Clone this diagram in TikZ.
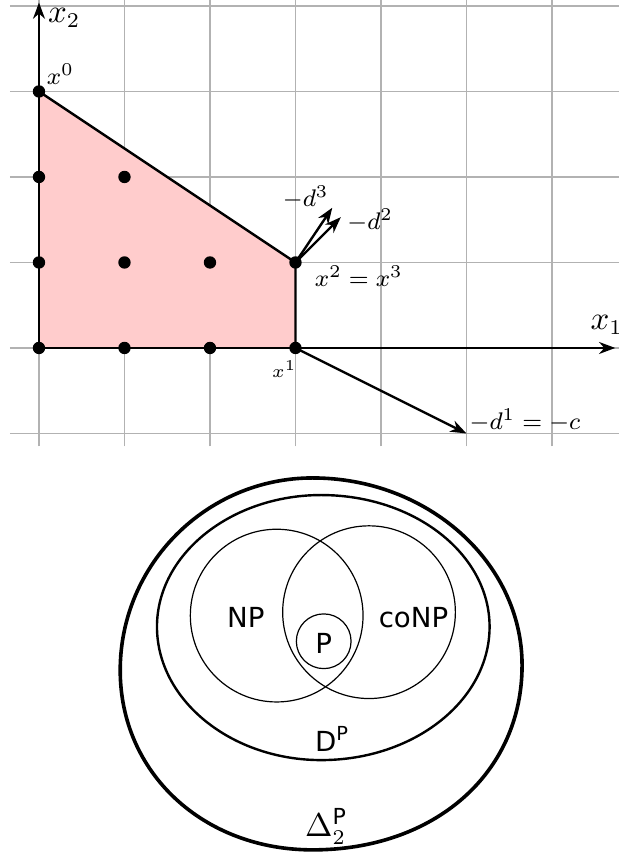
\documentclass[tikz,border=0pt]{standalone}
\usepackage{fontspec}
\setsansfont{DejaVu Sans}
\usepackage{xcolor}
\usepackage{tikz}
\usetikzlibrary{arrows.meta,positioning,calc}
\usepackage{amsmath}
\definecolor{feasfill}{RGB}{255,204,204}
\definecolor{gridgray}{RGB}{178,178,178}

\begin{document}
\begin{tikzpicture}[
  >={Stealth[length=1.9mm,width=1.4mm]},
  gridline/.style={draw=gridgray, thin},
  axis/.style={->, thick},
  edge/.style={thick},
  vtx/.style={circle, fill=black, inner sep=0pt, minimum size=1.45mm},
  lbl/.style={inner sep=0pt, font=\fontsize{8.5}{10}\selectfont},
  axlbl/.style={inner sep=0pt, font=\fontsize{10.5}{12}\selectfont},
  cls/.style={draw, thin, circle, inner sep=0pt},
  clsname/.style={inner sep=0pt, font=\sffamily\fontsize{9.2}{11}\selectfont}]
\useasboundingbox (-0.456,-5.93) rectangle (6.772,4.07);
\draw[gridline, step=1] (-0.34,-1.15) grid (7,4.2);
\fill[feasfill] (0,0) -- (0,3) -- (3,1) -- (3,0) -- cycle;
\node[vtx] (o)  at (0,0) {};
\node[vtx] (x0) at (0,3) {};
\node[vtx] (x1) at (3,0) {};
\node[vtx] (x2) at (3,1) {};
\foreach \i/\j in {1/0,2/0,0/1,1/1,2/1,0/2,1/2}
  \node[vtx] (p\i\j) at (\i,\j) {};
\coordinate (x1end) at (6.74,0);
\coordinate (x2end) at (0,4.04);
\draw[axis] (o.center) -- (x1end);
\draw[axis] (o.center) -- (x2end);
\draw[edge] (x0.center) -- (x2.center) -- (x1.center);
\coordinate (d1) at (5,-1);
\coordinate (d2) at (3.53,1.53);
\coordinate (d3) at (3.43,1.64);
\draw[->, thick] (x1.center) -- (d1);
\draw[->, thick] (x2.center) -- (d2);
\draw[->, thick] (x2.center) -- (d3);
\node[axlbl] (x1name) at (6.64,0.27) {$x_1$};
\node[axlbl, anchor=west] (x2name) at (0.1,3.86) {$x_2$};
\node[lbl] (x0lbl) at (0.25,3.2) {$x^0$};
\node[lbl, font=\fontsize{6.5}{8}\selectfont] (x1lbl) at (2.87,-0.25) {$x^1$};
\node[lbl, anchor=west] (x2lbl) at (3.22,0.84) {$x^2 = x^3$};
\node[lbl] (d3lbl) at (3.12,1.76) {$-d^3$};
\node[lbl, anchor=west] (d2lbl) at (3.6,1.49) {$-d^2$};
\node[lbl, anchor=west] (d1lbl) at (5.03,-0.85) {$-d^1 = -c$};
\draw[very thick] (3.2,-1.52) .. controls +(1.35,0) and +(0,1.2) .. (5.65,-3.71)
  .. controls +(0,-1.27) and +(1.42,0) .. (3.2,-5.87)
  .. controls +(-1.28,0) and +(0,-1.2) .. (0.95,-3.77)
  .. controls +(0,1.24) and +(-1.24,0) .. cycle;
\draw[thick] (3.3,-1.72) .. controls +(1.09,0) and +(0,0.85) .. (5.27,-3.26)
  .. controls +(0,-0.86) and +(1.09,0) .. (3.3,-4.82)
  .. controls +(-1.05,0) and +(0,-0.86) .. (1.38,-3.26)
  .. controls +(0,0.85) and +(-1.05,0) .. cycle;
\node[cls, minimum size=2.02cm] (npset) at (2.78,-3.13) {};
\node[cls, minimum size=2.02cm] (conpset) at (3.86,-3.09) {};
\node[cls, minimum size=0.64cm] (pset) at (3.33,-3.43) {};
\node[clsname] (nplbl) at (2.42,-3.15) {NP};
\node[clsname] (conplbl) at (4.38,-3.15) {coNP};
\node[clsname] (plbl) at (3.33,-3.46) {P};
\node[clsname] (dplbl) at (3.43,-4.57) {D$^{\textsf{P}}$};
\node[clsname, font=\sffamily\fontsize{10.5}{12}\selectfont] (deltalbl)
  at (3.36,-5.6) {$\Delta_2^{\textsf{P}}$};
\end{tikzpicture}
\end{document}
